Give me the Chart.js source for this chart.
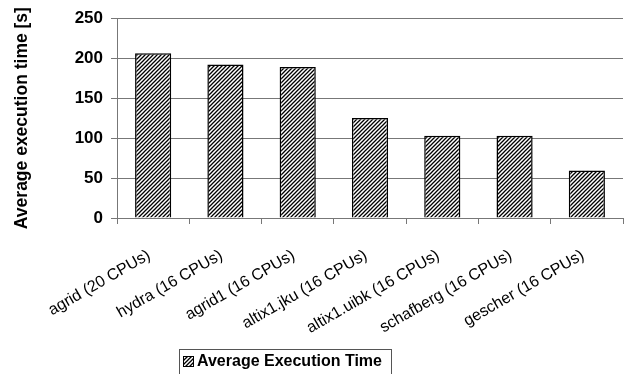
<!DOCTYPE html>
<html>
<head>
<meta charset="utf-8">
<script src="https://cdn.jsdelivr.net/npm/chart.js@4"></script>
<style>
  body { margin: 0; background: #fff; }
  #wrap { width: 624px; height: 374px; }
</style>
</head>
<body>
<div id="wrap"><canvas id="myChart" width="624" height="374"></canvas></div>
<script>
var categories = ['agrid (20 CPUs)', 'hydra (16 CPUs)', 'agrid1 (16 CPUs)', 'altix1.jku (16 CPUs)',
	'altix1.uibk (16 CPUs)', 'schafberg (16 CPUs)', 'gescher (16 CPUs)'];
var avgTime = [206, 192, 189, 125, 103, 103, 59.5];
var seriesName = 'Average Execution Time';
var yTitle = 'Average execution time [s]';
var yTicks = [0, 50, 100, 150, 200, 250];

function hatch() {
	var c = document.createElement('canvas');
	c.width = 4; c.height = 4;
	var g = c.getContext('2d');
	g.fillStyle = '#fff';
	g.fillRect(0, 0, 4, 4);
	g.strokeStyle = '#000';
	g.lineWidth = 1.3;
	g.beginPath();
	g.moveTo(0, 4); g.lineTo(4, 0);
	g.moveTo(-1, 1); g.lineTo(1, -1);
	g.moveTo(3, 5); g.lineTo(5, 3);
	g.stroke();
	return g.createPattern(c, 'repeat');
}

var font = "Arial, 'Liberation Sans', sans-serif";

// legend box drawn by hand so it sits where the original one is
var legendBox = {
	id: 'legendBox',
	afterDraw: function(chart) {
		var ctx = chart.ctx;
		ctx.save();
		ctx.fillStyle = '#fff';
		ctx.fillRect(179.5, 349.5, 212, 28);
		ctx.strokeStyle = '#555';
		ctx.lineWidth = 1;
		ctx.strokeRect(179.5, 349.5, 212, 28);
		ctx.fillStyle = hatch();
		ctx.fillRect(183.5, 356.5, 10, 10);
		ctx.strokeStyle = '#000';
		ctx.strokeRect(183.5, 356.5, 10, 10);
		ctx.fillStyle = '#000';
		ctx.font = 'bold 16px ' + font;
		ctx.textBaseline = 'middle';
		ctx.fillText(chart.data.datasets[0].label, 197, 362);
		ctx.restore();
	}
};

var ctx = document.getElementById('myChart').getContext('2d');
new Chart(ctx, {
	type: 'bar',
	data: {
		labels: categories,
		datasets: [{
			label: seriesName,
			data: avgTime,
			backgroundColor: hatch(),
			borderColor: '#000',
			borderWidth: 1.5,
			barPercentage: 0.5,
			categoryPercentage: 1
		}]
	},
	options: {
		responsive: false,
		animation: false,
		layout: { padding: { top: 0, right: 1, bottom: 0, left: 0 } },
		plugins: {
			legend: { display: false },
			tooltip: { enabled: false }
		},
		scales: {
			x: {
				grid: { offset: true, drawOnChartArea: false, tickLength: 6, color: '#777' },
				border: { color: '#777' },
				ticks: {
					color: '#000',
					font: { family: font, size: 16 },
					minRotation: 30,
					maxRotation: 30,
					padding: 22,
					labelOffset: -4
				},
				afterFit: function(s) { s.height = 156; }
			},
			y: {
				min: 0,
				max: 250,
				afterBuildTicks: function(s) { s.ticks = yTicks.map(function(v) { return { value: v }; }); },
				grid: { color: '#777', tickLength: 6 },
				border: { color: '#777' },
				ticks: {
					color: '#000',
					font: { family: font, size: 17, weight: 'bold' },
					padding: 8
				},
				title: {
					display: true,
					text: yTitle,
					color: '#000',
					font: { family: font, size: 17.5, weight: 'bold' },
					padding: { top: 12, bottom: 0 }
				},
				afterFit: function(s) { s.width = 117; }
			}
		}
	},
	plugins: [legendBox]
});
</script>
</body>
</html>
